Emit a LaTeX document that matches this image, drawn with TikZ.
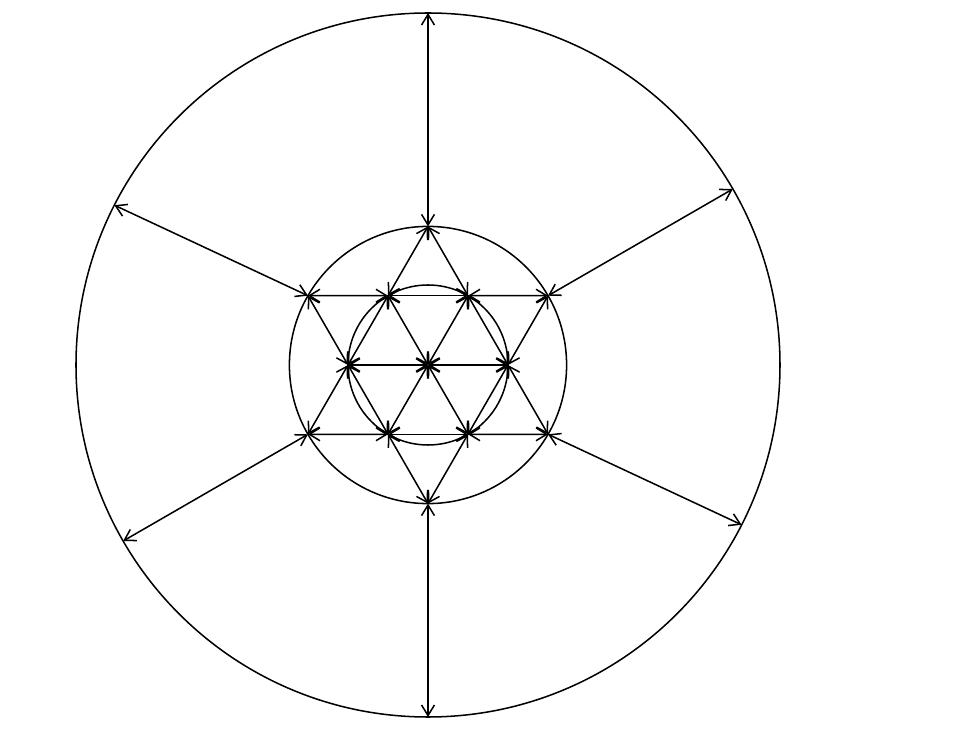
\documentclass[tikz,border=0pt]{standalone}
\usetikzlibrary{arrows.meta}
\tikzset{both/.style={{Straight Barb[length=9pt,width=11pt]}-{Straight Barb[length=9pt,width=11pt]}}}

\begin{document}
\begin{tikzpicture}[x=0.3mm,y=0.3mm,line width=1.3pt]
\useasboundingbox (-428,-391) rectangle (526,365);
\coordinate (c) at (0,0);
\draw (c) circle (352);
\draw (c) circle (138.6);
\draw (c) circle (80);
\foreach \i/\a in {0/30,1/90,2/153,3/210,4/270,5/333} {
  \coordinate (h\i) at (60*\i:80);
  \coordinate (s\i) at (60*\i+30:138.6);
  \coordinate (r\i) at (\a:352);
}
\foreach \i in {0,...,5} {
  \pgfmathtruncatemacro\j{mod(\i+1,6)}
  \draw[both] (c) -- (h\i);
  \draw[both] (h\i) -- (h\j);
  \draw[both] (s\i) -- (h\i);
  \draw[both] (s\i) -- (h\j);
  \draw[both] (s\i) -- (r\i);
}
\end{tikzpicture}
\end{document}
